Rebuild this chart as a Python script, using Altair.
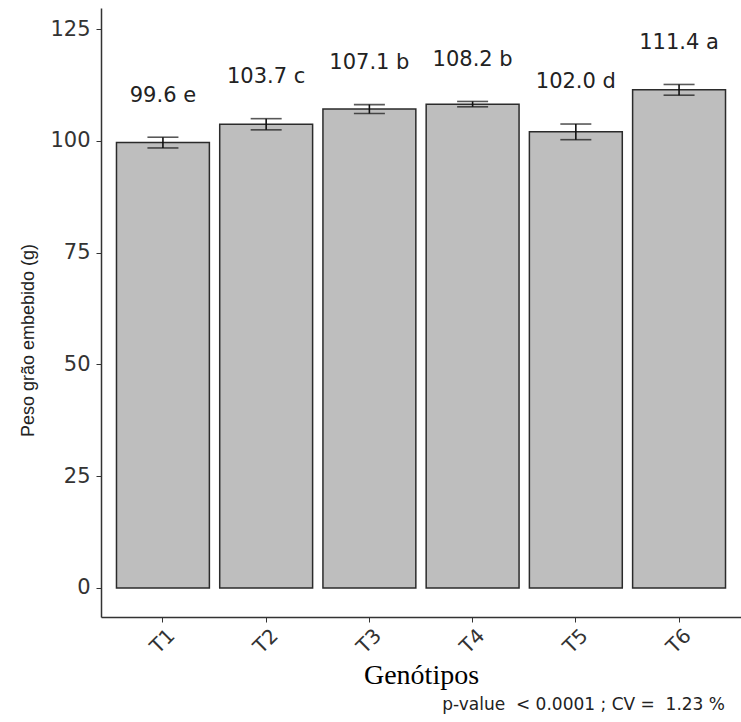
import altair as alt
import pandas as pd

genotypes = ["T1", "T2", "T3", "T4", "T5", "T6"]
means = [99.6, 103.7, 107.1, 108.2, 102.0, 111.4]
sds = [1.2, 1.25, 1.0, 0.6, 1.75, 1.2]
letters = ["e", "c", "b", "b", "d", "a"]
caption = "p-value\u00a0\u00a0< 0.0001 ; CV =\u00a0\u00a01.23 %"

df = pd.DataFrame({"g": genotypes, "mean": means, "sd": sds, "letter": letters})

W, H = 640, 609

xscale = alt.Scale(paddingInner=0.1, paddingOuter=0.15)
yscale = alt.Scale(domain=[-6.5, 129.7], nice=False, zero=False)

x_axis = alt.Axis(
    title="Genótipos", titleFont="Liberation Serif", titleFontSize=28, titleFontWeight="normal",
    titleColor="#000000", titleBaseline="alphabetic", titleY=66,
    labelAngle=315, labelAlign="center", labelBaseline="middle", labelPadding=19,
    labelFont="DejaVu Sans", labelFontSize=20, labelColor="#333333",
    tickSize=5, tickColor="#333333", tickWidth=1,
    domainColor="#333333", domainWidth=1.5, grid=False,
)
y_axis = alt.Axis(
    title="Peso grão embebido (g)", titleFont="Liberation Sans", titleFontSize=18, titleFontWeight="normal",
    titleColor="#222222", titleX=-68, titleY=332, titleBaseline="alphabetic", titleAngle=270,
    values=[0, 25, 50, 75, 100, 125],
    labelFont="DejaVu Sans", labelFontSize=21, labelColor="#333333", labelPadding=6,
    tickSize=5, tickColor="#333333", tickWidth=1,
    domainColor="#333333", domainWidth=1.5, grid=False,
)

base = alt.Chart(df).transform_calculate(
    lo="datum.mean - datum.sd",
    hi="datum.mean + datum.sd",
    ly="datum.mean + datum.sd + 9.3",
    lab="format(datum.mean, '.1f') + ' ' + datum.letter",
)

bars = base.mark_bar(fill="#BEBEBE", stroke="#2b2b2b", strokeWidth=1.5).encode(
    x=alt.X("g:N", scale=xscale, axis=x_axis, sort=genotypes),
    y=alt.Y("mean:Q", scale=yscale, axis=y_axis),
)

err = base.mark_rule(color="#111111", strokeWidth=1.6).encode(
    x=alt.X("g:N", sort=genotypes), y="lo:Q", y2="hi:Q"
)
cap_lo = base.mark_tick(color="#111111", thickness=1.6, size=31).encode(
    x=alt.X("g:N", sort=genotypes), y="lo:Q"
)
cap_hi = base.mark_tick(color="#111111", thickness=1.6, size=31).encode(
    x=alt.X("g:N", sort=genotypes), y="hi:Q"
)

labels = base.mark_text(font="DejaVu Sans", fontSize=21, color="#222222", baseline="middle").encode(
    x=alt.X("g:N", sort=genotypes), y="ly:Q", text="lab:N"
)

cap_text = alt.Chart(pd.DataFrame({"t": [caption]})).mark_text(
    font="DejaVu Sans", fontSize=17, color="#222222", align="right", baseline="middle"
).encode(x=alt.value(624), y=alt.value(697), text="t:N")

chart = alt.layer(bars, err, cap_lo, cap_hi, labels, cap_text).properties(
    width=W, height=H,
    autosize=alt.AutoSizeParams(type="none"),
    padding={"left": 101, "top": 8, "right": 0, "bottom": 105},
    background="white",
).configure_view(stroke=None)

chart.save("out.html", embed_options={"renderer": "svg", "actions": False})
